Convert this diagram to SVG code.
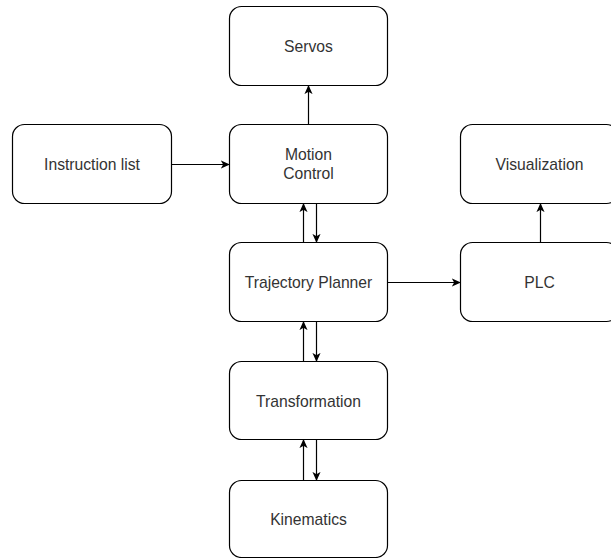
<svg xmlns="http://www.w3.org/2000/svg" width="611" height="558" viewBox="0 0 611 558">
<style>
.box{fill:#fff;stroke:#000;stroke-width:1.2}
.lbl{font-family:"Liberation Sans",Arial,sans-serif;font-size:15.7px;fill:#333;text-anchor:middle;dominant-baseline:central}
.edge{fill:none;stroke:#000;stroke-width:1.2}
</style>
<defs>
<marker id="arr" viewBox="0 0 10 10" refX="9" refY="5" markerWidth="9" markerHeight="9" markerUnits="userSpaceOnUse" orient="auto">
<path d="M0,0.5 L10,5 L0,9.5 L2.5,5 z" fill="#000"/>
</marker>
</defs>
<rect width="611" height="558" fill="#fff"/>
<g id="servos"><rect class="box" x="229.5" y="6.5" width="158" height="79" rx="12"/><text class="lbl" x="308.5" y="46">Servos</text></g>
<g id="instruction-list"><rect class="box" x="12.5" y="124.5" width="159" height="79" rx="12"/><text class="lbl" x="92" y="164">Instruction list</text></g>
<g id="motion-control"><rect class="box" x="229.5" y="124.5" width="158" height="79" rx="12"/><text class="lbl" x="308.5" y="154.8">Motion</text><text class="lbl" x="308.5" y="173.8">Control</text></g>
<g id="visualization"><rect class="box" x="460.5" y="124.5" width="158" height="79" rx="12"/><text class="lbl" x="539.5" y="164">Visualization</text></g>
<g id="trajectory-planner"><rect class="box" x="229.5" y="242.5" width="158" height="79" rx="12"/><text class="lbl" x="308.5" y="282">Trajectory Planner</text></g>
<g id="plc"><rect class="box" x="460.5" y="242.5" width="158" height="79" rx="12"/><text class="lbl" x="539.5" y="282">PLC</text></g>
<g id="transformation"><rect class="box" x="229.5" y="361.5" width="158" height="78" rx="12"/><text class="lbl" x="308.5" y="401">Transformation</text></g>
<g id="kinematics"><rect class="box" x="229.5" y="480.5" width="158" height="77" rx="12"/><text class="lbl" x="308.5" y="519">Kinematics</text></g>
<g id="connectors">
<line class="edge" x1="308.5" y1="124.5" x2="308.5" y2="86" marker-end="url(#arr)"/>
<line class="edge" x1="171.5" y1="164.5" x2="229" y2="164.5" marker-end="url(#arr)"/>
<line class="edge" x1="303.5" y1="242.5" x2="303.5" y2="204" marker-end="url(#arr)"/>
<line class="edge" x1="316.5" y1="203.5" x2="316.5" y2="242" marker-end="url(#arr)"/>
<line class="edge" x1="387.5" y1="282.5" x2="460" y2="282.5" marker-end="url(#arr)"/>
<line class="edge" x1="540.5" y1="242.5" x2="540.5" y2="204" marker-end="url(#arr)"/>
<line class="edge" x1="303.5" y1="361.5" x2="303.5" y2="322" marker-end="url(#arr)"/>
<line class="edge" x1="316.5" y1="321.5" x2="316.5" y2="361" marker-end="url(#arr)"/>
<line class="edge" x1="303.5" y1="480.5" x2="303.5" y2="440" marker-end="url(#arr)"/>
<line class="edge" x1="316.5" y1="439.5" x2="316.5" y2="480" marker-end="url(#arr)"/>
</g>
</svg>
